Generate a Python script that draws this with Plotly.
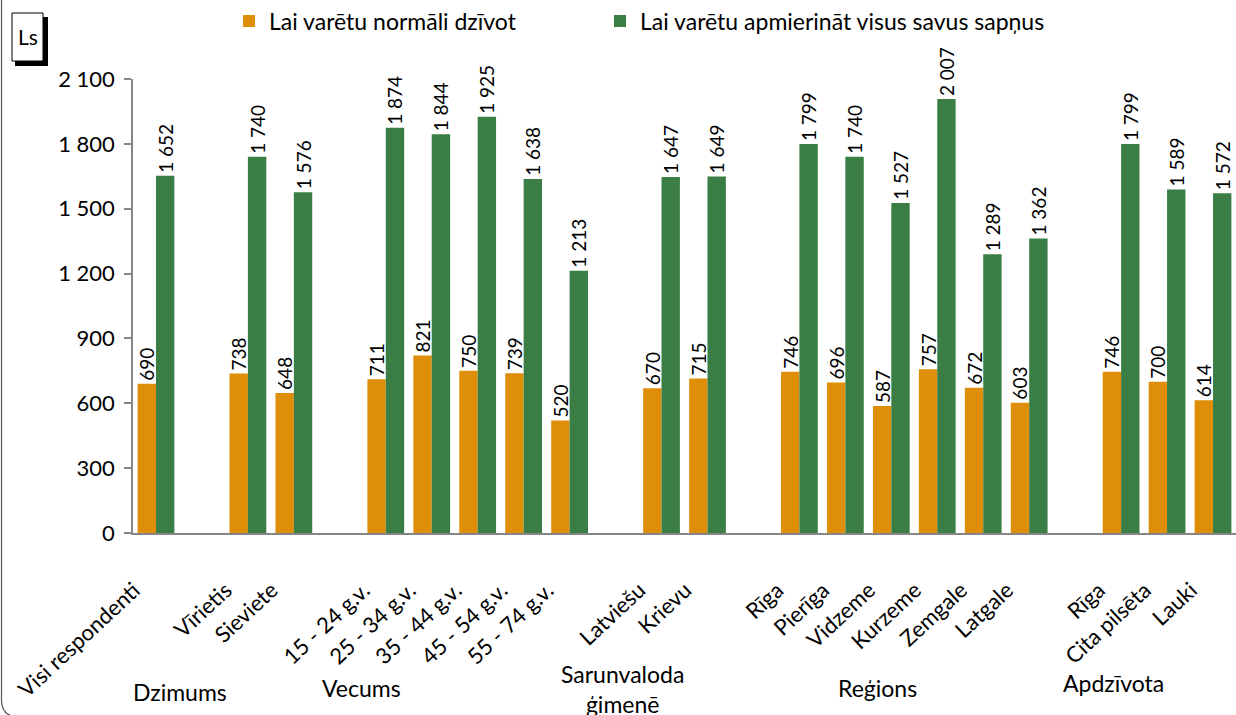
import plotly.graph_objects as go

# ---- data ----
categories = ["Visi respondenti", "", "Vīrietis", "Sieviete", "",
              "15 - 24 g.v.", "25 - 34 g.v.", "35 - 44 g.v.", "45 - 54 g.v.", "55 - 74 g.v.", "",
              "Latviešu", "Krievu", "",
              "Rīga", "Pierīga", "Vidzeme", "Kurzeme", "Zemgale", "Latgale", "",
              "Rīga", "Cita pilsēta", "Lauki"]
normal = [690, None, 738, 648, None, 711, 821, 750, 739, 520, None, 670, 715, None,
          746, 696, 587, 757, 672, 603, None, 746, 700, 614]
dreams = [1652, None, 1740, 1576, None, 1874, 1844, 1925, 1638, 1213, None, 1647, 1649, None,
          1799, 1740, 1527, 2007, 1289, 1362, None, 1799, 1589, 1572]
series_names = ["Lai varētu normāli dzīvot", "Lai varētu apmierināt visus savus sapņus"]
y_ticks = [0, 300, 600, 900, 1200, 1500, 1800, 2100]
group_labels = ["Dzimums", "Vecums", "Sarunvaloda<br>ģimenē", "Reģions", "Apdzīvota"]

# ---- layout geometry ----
W, H = 1236, 715
L, R, T, B = 133, 0, 79, 182
PW, PH = W - L - R, H - T - B

def px2x(px):
    return (px - L) / PW

def py2y(py):
    return (H - B - py) / PH

FONT = "Lato, Carlito, 'Open Sans', sans-serif"
ORANGE = "#DE8E07"
GREEN = "#3A7D45"
AXIS = "#868686"

x_idx = list(range(len(categories)))

fig = go.Figure()
for name, vals, col, leg in [(series_names[0], normal, ORANGE, "legend"),
                             (series_names[1], dreams, GREEN, "legend2")]:
    fig.add_trace(go.Bar(
        x=x_idx, y=vals, name=name, legend=leg,
        marker=dict(color=col, line=dict(width=0)),
        texttemplate="%{y:,d}", textposition="outside", textangle=-90,
        textfont=dict(family=FONT, size=19, color="#000000"),
        constraintext="none", cliponaxis=False,
    ))

group_x = [0.52, 4.48, 10.16, 15.71, 20.84]
group_py = [692, 688, 689, 688, 683]
annotations = []
for gx, gy, txt in zip(group_x, group_py, group_labels):
    annotations.append(dict(x=gx, y=py2y(gy), xref="x", yref="paper", text=txt,
                            showarrow=False, xanchor="center", yanchor="middle",
                            font=dict(family=FONT, size=23, color="#000000")))
annotations.append(dict(x=px2x(27.5), y=py2y(37), xref="paper", yref="paper", text="Ls",
                        showarrow=False, xanchor="center", yanchor="middle",
                        font=dict(family=FONT, size=21, color="#000000")))

shapes = [
    # Ls box shadow and box
    dict(type="rect", xref="paper", yref="paper",
         x0=px2x(15), x1=px2x(48), y0=py2y(66), y1=py2y(17),
         fillcolor="#000000", line=dict(width=0), layer="above"),
    dict(type="rect", xref="paper", yref="paper",
         x0=px2x(12), x1=px2x(43), y0=py2y(61), y1=py2y(13),
         fillcolor="#ffffff", line=dict(color="#000000", width=1), layer="above"),
    # outer chart border (left edge with rounded corner)
    dict(type="path", xref="paper", yref="paper",
         path=f"M {px2x(1.5)},{py2y(-2)} L {px2x(1.5)},{py2y(700)} Q {px2x(1.5)},{py2y(713)} {px2x(12)},{py2y(716)}",
         line=dict(color="#555555", width=1.2)),
]

legend_common = dict(orientation="h", yanchor="middle", xanchor="left",
                     font=dict(family=FONT, size=23, color="#000000"),
                     bgcolor="rgba(0,0,0,0)")

fig.update_layout(
    width=W, height=H,
    margin=dict(l=L, r=R, t=T, b=B, pad=0, autoexpand=False),
    paper_bgcolor="#ffffff", plot_bgcolor="#ffffff",
    separators=". ",
    barmode="group", bargap=0.2, bargroupgap=0,
    font=dict(family=FONT, size=18, color="#000000"),
    showlegend=True,
    legend=dict(x=px2x(229), y=py2y(21), **legend_common),
    legend2=dict(x=px2x(600), y=py2y(21), **legend_common),
    xaxis=dict(range=[-0.5, len(categories) - 0.5], tickmode="array",
               tickvals=x_idx, ticktext=categories, tickangle=-43,
               tickfont=dict(family=FONT, size=22, color="#000000"),
               ticklabelstandoff=34, ticklabelshift=-22,
               showline=True, linecolor=AXIS, linewidth=1.5, ticks="",
               showgrid=False, zeroline=False, fixedrange=True),
    yaxis=dict(range=[0, 2100], tickmode="array", tickvals=y_ticks, tickformat=",d",
               tickfont=dict(family=FONT, size=22, color="#000000"),
               showline=True, linecolor=AXIS, linewidth=1.5,
               ticks="outside", ticklen=7, tickcolor=AXIS, tickwidth=1.5,
               ticklabelstandoff=5,
               showgrid=False, zeroline=False, fixedrange=True),
    annotations=annotations,
    shapes=shapes,
)

fig.write_html("out.html", config={"displayModeBar": False},
               post_script="document.body.style.margin='0';document.body.style.overflow='hidden';")
